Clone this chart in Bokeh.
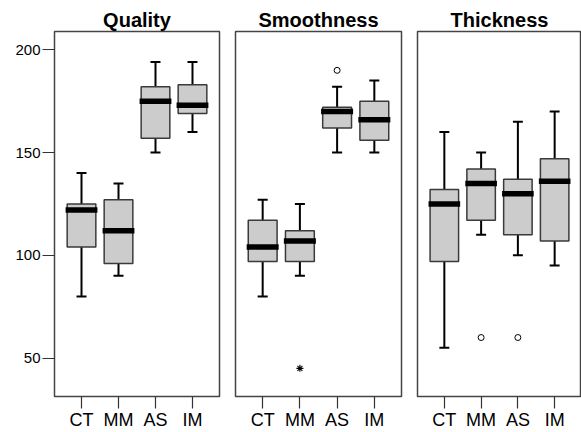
import numpy as np
from bokeh.plotting import figure
from bokeh.layouts import row
from bokeh.models import Range1d, FixedTicker
from bokeh.embed import file_html
from bokeh.resources import INLINE

categories = ["CT", "MM", "AS", "IM"]
y_ticks = [50, 100, 150, 200]

# Quality
quality_low = [80, 90, 150, 160]
quality_q1 = [104, 96, 157, 169]
quality_med = [122, 112, 175, 173]
quality_q3 = [125, 127, 182, 183]
quality_high = [140, 135, 194, 194]
quality_out_cat = []
quality_out_val = []
quality_ext_cat = []
quality_ext_val = []

# Smoothness
smooth_low = [80, 90, 150, 150]
smooth_q1 = [97, 97, 162, 156]
smooth_med = [104, 107, 170, 166]
smooth_q3 = [117, 112, 172, 175]
smooth_high = [127, 125, 182, 185]
smooth_out_cat = ["AS"]
smooth_out_val = [190]
smooth_ext_cat = ["MM"]
smooth_ext_val = [45]

# Thickness
thick_low = [55, 110, 100, 95]
thick_q1 = [97, 117, 110, 107]
thick_med = [125, 135, 130, 136]
thick_q3 = [132, 142, 137, 147]
thick_high = [160, 150, 165, 170]
thick_out_cat = ["MM", "AS"]
thick_out_val = [60, 60]
thick_ext_cat = []
thick_ext_val = []

FONT = "Liberation Sans"


def panel(title, low, q1, med, q3, high, out_cat, out_val, ext_cat, ext_val,
          width, left, right, show_y):
    p = figure(width=width, height=432, output_backend="svg", toolbar_location=None,
               x_range=Range1d(0.27, 4.73), y_range=Range1d(31.3, 208.9),
               min_border_left=left, min_border_right=right,
               min_border_top=31, min_border_bottom=36)
    x = np.arange(1, len(categories) + 1, dtype=float)
    pos = {c: i + 1 for i, c in enumerate(categories)}
    bw, cw, mw = 0.775, 0.27, 0.86
    # whiskers
    p.segment(x, q3, x, high, line_color="black", line_width=2)
    p.segment(x, low, x, q1, line_color="black", line_width=2)
    p.segment(x - cw / 2, high, x + cw / 2, high, line_color="black", line_width=2)
    p.segment(x - cw / 2, low, x + cw / 2, low, line_color="black", line_width=2)
    # boxes
    p.vbar(x=x, width=bw, bottom=q1, top=q3, fill_color="#cccccc",
           line_color="#3a3a3a", line_width=1.5)
    # medians
    p.segment(x - mw / 2, med, x + mw / 2, med, line_color="black", line_width=5.5)
    if out_cat:
        p.scatter([pos[c] for c in out_cat], out_val, marker="circle", size=6,
                  fill_color="white", line_color="black", line_width=1)
    if ext_cat:
        p.scatter([pos[c] for c in ext_cat], ext_val, marker="asterisk", size=7,
                  line_color="black", line_width=1.1)

    p.title.text = title
    p.title.align = "center"
    p.title.text_font = FONT
    p.title.text_font_size = "20px"
    p.title.text_font_style = "bold"
    p.title.text_color = "black"
    p.title.standoff = 1

    p.xgrid.visible = False
    p.ygrid.visible = False
    p.outline_line_color = "#444444"
    p.outline_line_width = 1.5
    p.background_fill_color = "white"
    p.border_fill_color = "white"

    xa = p.xaxis[0]
    xa.ticker = FixedTicker(ticks=list(x))
    xa.major_label_overrides = {float(v): c for v, c in zip(x, categories)}
    xa.major_label_overrides.update({int(v): c for v, c in zip(x, categories)})
    xa.major_tick_out = 12
    xa.major_tick_in = 0
    xa.minor_tick_line_color = None
    xa.major_tick_line_color = "#333333"
    xa.major_tick_line_width = 1.2
    xa.axis_line_color = "#444444"
    xa.major_label_standoff = 1
    xa.major_label_text_font = FONT
    xa.major_label_text_font_size = "18px"
    xa.major_label_text_color = "black"

    ya = p.yaxis[0]
    if show_y:
        ya.ticker = FixedTicker(ticks=y_ticks)
        ya.major_tick_out = 12
        ya.major_tick_in = 0
        ya.minor_tick_line_color = None
        ya.major_tick_line_color = "#333333"
        ya.major_tick_line_width = 1.2
        ya.axis_line_color = "#444444"
        ya.major_label_standoff = 2
        ya.major_label_text_font = FONT
        ya.major_label_text_font_size = "15px"
        ya.major_label_text_color = "black"
    else:
        ya.visible = False
    return p


p1 = panel("Quality", quality_low, quality_q1, quality_med, quality_q3, quality_high,
           quality_out_cat, quality_out_val, quality_ext_cat, quality_ext_val,
           227, 54, 8, True)
p2 = panel("Smoothness", smooth_low, smooth_q1, smooth_med, smooth_q3, smooth_high,
           smooth_out_cat, smooth_out_val, smooth_ext_cat, smooth_ext_val,
           182, 8, 8, False)
p3 = panel("Thickness", thick_low, thick_q1, thick_med, thick_q3, thick_high,
           thick_out_cat, thick_out_val, thick_ext_cat, thick_ext_val,
           172, 8, 0, False)

layout = row(p1, p2, p3, spacing=0)
open("out.html", "w").write(file_html(layout, INLINE))
